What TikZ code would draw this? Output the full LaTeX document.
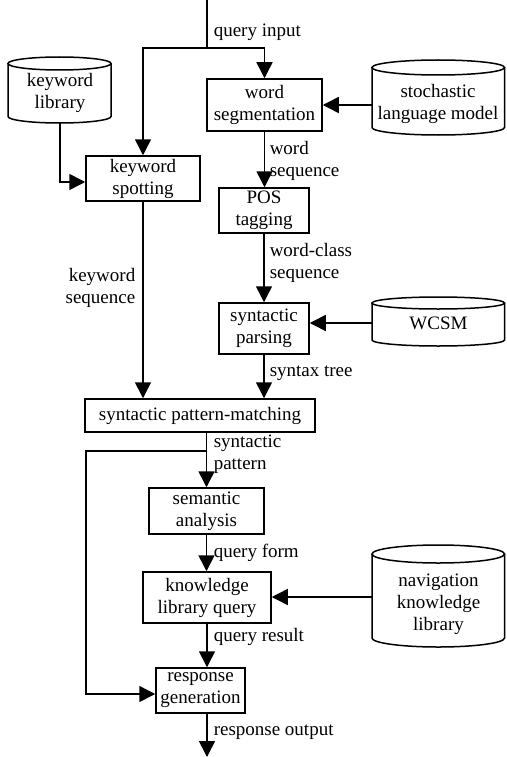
\documentclass[tikz,border=0pt]{standalone}
\usepackage{fontspec}
\setmainfont{Liberation Serif}
\usetikzlibrary{arrows.meta,calc}
\newcommand\fs{\fontsize{19}{22}\selectfont}
\begin{document}
\begin{tikzpicture}[x=1pt,y=-1pt, line width=1.5pt,
  box/.style={draw, inner sep=0pt, align=center, font=\fs},
  txt/.style={inner sep=0pt, align=center, font=\fs},
  lbl/.style={inner sep=0pt, align=left, font=\fs, anchor=west},
  arr/.style={-{Triangle[width=16pt,length=16pt]}},
]
\useasboundingbox (0,0) rectangle (506,757);
% boxes
\node[box, minimum width=115pt, minimum height=52pt] (ws) at (264.5,105) {word\\segmentation};
\node[box, minimum width=114pt, minimum height=45pt] (ks) at (143,178.5) {keyword\\spotting};
\node[box, minimum width=90pt, minimum height=45pt] (pos) at (264,210.5) {POS\\tagging};
\node[box, minimum width=90pt, minimum height=51pt] (sp) at (264,328.5) {syntactic\\parsing};
\node[box, minimum width=230pt, minimum height=33pt] (spm) at (200,415.5) {syntactic pattern-matching};
\node[box, minimum width=115pt, minimum height=46pt] (sa) at (206.5,511) {semantic\\analysis};
\node[box, minimum width=128pt, minimum height=51pt] (klq) at (207,597.5) {knowledge\\library query};
\node[box, minimum width=89pt, minimum height=45pt] (rg) at (200.5,690.5) {response\\generation};
% cylinders
\draw (59.5,63.5) ellipse [x radius=51.5, y radius=6.5];
\draw (8,63.5) -- (8,116.5) arc[start angle=180, end angle=0, x radius=51.5, y radius=6.5] -- (111,63.5);
\node[txt] (kl) at (60,93) {keyword\\library};
\coordinate (klB) at (60,123);
\draw (438.25,67.5) ellipse [x radius=66.25, y radius=7.5];
\draw (372,67.5) -- (372,127.5) arc[start angle=180, end angle=0, x radius=66.25, y radius=7.5] -- (504.5,67.5);
\node[txt] (slm) at (438,104) {stochastic\\language model};
\coordinate (slmL) at (372,105);
\draw (438.25,303) ellipse [x radius=66.25, y radius=6];
\draw (372,303) -- (372,340) arc[start angle=180, end angle=0, x radius=66.25, y radius=6] -- (504.5,303);
\node[txt] (wcsm) at (438.5,323) {WCSM};
\coordinate (wcL) at (372,323);
\draw (438.25,554) ellipse [x radius=66.25, y radius=9];
\draw (372,554) -- (372,638) arc[start angle=180, end angle=0, x radius=66.25, y radius=9] -- (504.5,554);
\node[txt] (nav) at (438.5,604) {navigation\\knowledge\\library};
\coordinate (navL) at (372,597);
% connectors
\coordinate (in) at (207,0);
\coordinate (j1) at (207,48);
\draw (in) -- (j1);
\draw[arr] (j1) -| (ws.north);
\draw[arr] (j1) -| (ks.north);
\draw[arr] (klB) |- ($(ks.west)+(0,3.5)$);
\draw[arr] (slmL) -- (ws.east);
\draw[arr] (ws.south) -- (ws.south |- pos.north);
\draw[arr] (pos.south) -- (sp.north);
\draw[arr] (wcL) -- (wcL -| sp.east);
\draw[arr] (sp.south) -- (sp.south |- spm.north);
\draw[arr] (ks.south) -- (ks.south |- spm.north);
\coordinate (j2) at (206.5,451);
\coordinate (j3) at (86,451);
\draw[arr] (sa.north |- spm.south) -- (sa.north);
\draw[arr] (j2) -- (j3) |- ($(rg.west)+(0,3.5)$);
\draw[arr] (sa.south) -- (sa.south |- klq.north);
\draw[arr] (navL) -- (navL -| klq.east);
\draw[arr] (klq.south) -- (klq.south |- rg.north);
\coordinate (out) at (207,757);
\draw[arr] (klq.south |- rg.south) -- (out);
% labels
\node[lbl] (l1) at (213,32) {query input};
\node[lbl] (l2) at (269,161) {word\\sequence};
\node[lbl] (l3) at (269,262.5) {word-class\\sequence};
\node[lbl, anchor=east, align=right] (l4) at (136,288) {keyword\\sequence};
\node[lbl] (l5) at (269,373) {syntax tree};
\node[lbl] (l6) at (213,454) {syntactic\\pattern};
\node[lbl] (l7) at (213,553) {query form};
\node[lbl] (l8) at (213,637) {query result};
\node[lbl] (l9) at (213,732) {response output};
\end{tikzpicture}
\end{document}
